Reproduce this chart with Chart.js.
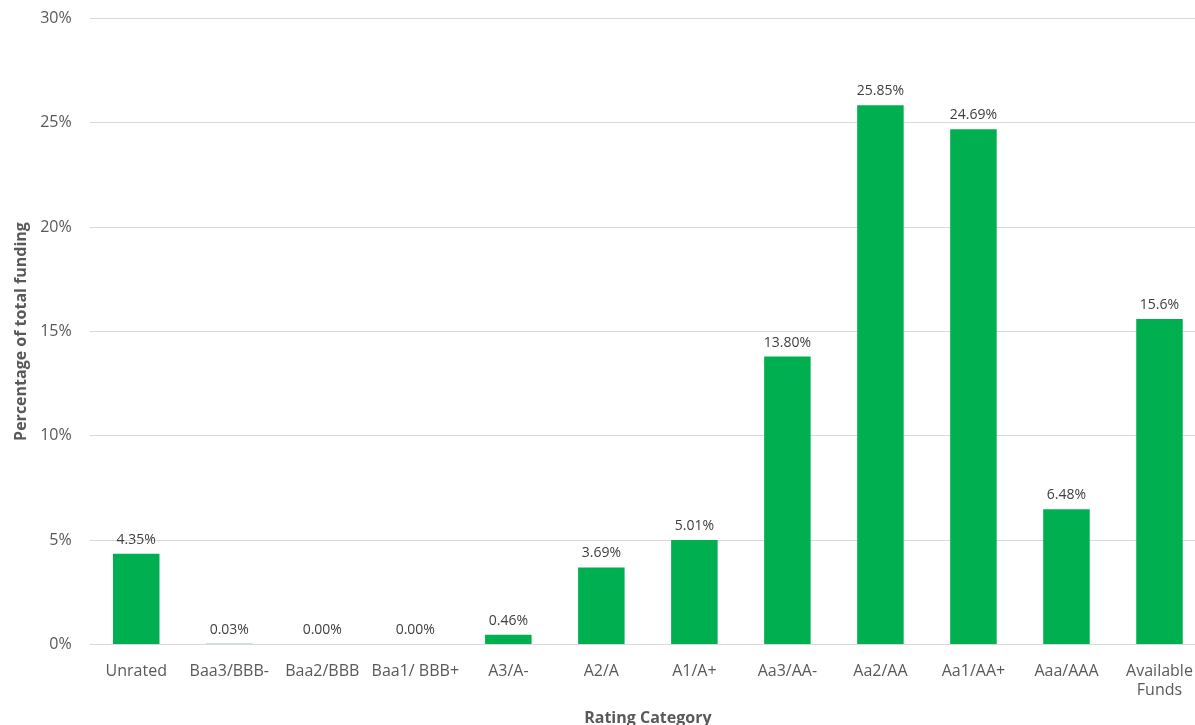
<!DOCTYPE html>
<html>
<head>
<meta charset="utf-8">
<script src="https://cdn.jsdelivr.net/npm/chart.js@4/dist/chart.umd.min.js"></script>
<style>
  html, body { margin: 0; padding: 0; background: #fff; overflow: hidden; }
  #wrap { position: absolute; left: 0; top: -9px; width: 1206px; height: 737px; }
</style>
</head>
<body>
<div id="wrap"><canvas id="chart" width="1206" height="737"></canvas></div>
<script>
  const categories = ['Unrated', 'Baa3/BBB-', 'Baa2/BBB', 'Baa1/ BBB+', 'A3/A-', 'A2/A', 'A1/A+',
    'Aa3/AA-', 'Aa2/AA', 'Aa1/AA+', 'Aaa/AAA', ['Available', 'Funds']];
  const shares = [4.35, 0.03, 0, 0, 0.46, 3.69, 5.01, 13.80, 25.85, 24.69, 6.48, 15.6];
  const shareLabels = ['4.35%', '0.03%', '0.00%', '0.00%', '0.46%', '3.69%', '5.01%',
    '13.80%', '25.85%', '24.69%', '6.48%', '15.6%'];

  const FONT = "'Open Sans', 'Noto Sans', sans-serif";
  const GREY = '#595959';

  // value labels above each bar
  const barLabels = {
    id: 'barLabels',
    afterDatasetsDraw(chart) {
      const ctx = chart.ctx;
      const meta = chart.getDatasetMeta(0);
      ctx.save();
      ctx.font = '14px ' + FONT;
      ctx.fillStyle = '#404040';
      ctx.textAlign = 'center';
      ctx.textBaseline = 'bottom';
      meta.data.forEach((bar, i) => {
        ctx.fillText(shareLabels[i], bar.x, bar.y - 7);
      });
      ctx.restore();
    }
  };

  new Chart(document.getElementById('chart'), {
    type: 'bar',
    data: {
      labels: categories,
      datasets: [{
        data: shares,
        backgroundColor: '#00B050',
        categoryPercentage: 1,
        barPercentage: 0.5,
      }],
    },
    options: {
      responsive: false,
      animation: false,
      layout: { padding: { top: 1, left: 12, right: 0, bottom: 0 } },
      plugins: {
        legend: { display: false },
        tooltip: { enabled: false },
      },
      scales: {
        x: {
          grid: { display: false },
          border: { display: false },
          ticks: { color: GREY, font: { family: FONT, size: 16 }, maxRotation: 0, autoSkip: false, padding: 9 },
          title: {
            display: true,
            text: 'Rating Category',
            color: GREY,
            font: { family: FONT, size: 16, weight: 'bold' },
            padding: { top: 0, bottom: 0 },
          },
        },
        y: {
          min: 0,
          max: 30,
          ticks: {
            stepSize: 5,
            color: GREY,
            font: { family: FONT, size: 16 },
            padding: 18,
            callback: (v) => v + '%',
          },
          grid: { color: '#d9d9d9', drawTicks: false },
          border: { display: false },
          title: {
            display: true,
            text: 'Percentage of total funding',
            color: GREY,
            font: { family: FONT, size: 16, weight: 'bold' },
            padding: { top: 0, bottom: -9 },
          },
        },
      },
    },
    plugins: [barLabels],
  });
</script>
</body>
</html>
